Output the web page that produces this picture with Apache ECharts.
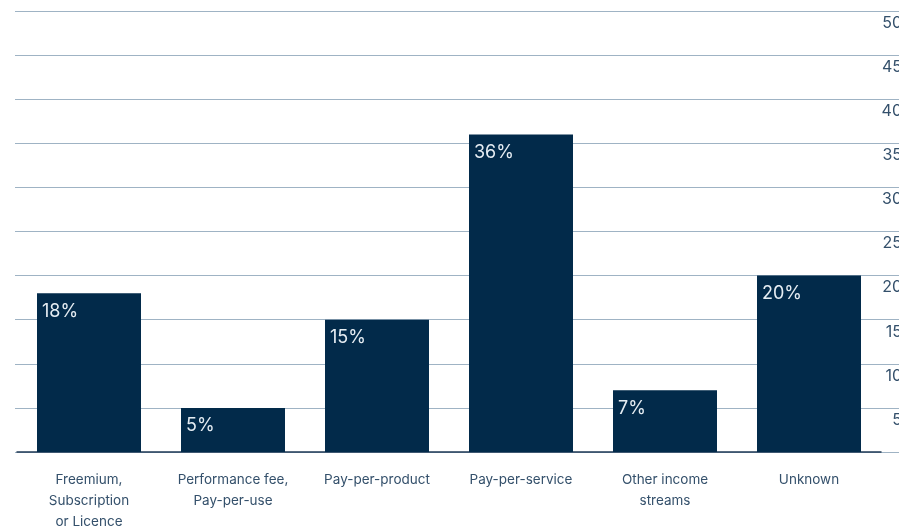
<!DOCTYPE html>
<html><head><meta charset="utf-8">
<script src="https://cdn.jsdelivr.net/npm/echarts@6/dist/echarts.min.js"></script>
<style>html,body{margin:0;padding:0;background:#fff}#c{width:899px;height:526px}</style>
</head><body><div id="c"></div>
<script>
const categories = ['Freemium,\nSubscription\nor Licence', 'Performance fee,\nPay-per-use', 'Pay-per-product', 'Pay-per-service', 'Other income\nstreams', 'Unknown'];
const values = [18, 5, 15, 36, 7, 20];
const yTicks = [0, 5, 10, 15, 20, 25, 30, 35, 40, 45, 50];

const font = 'Inter, "Noto Sans", sans-serif';
const chart = echarts.init(document.getElementById('c'));
chart.setOption({
  animation: false,
  grid: [
    {left: 17, right: 18, top: 11, bottom: 74, outerBoundsMode: 'none', containLabel: false},
    {left: 15, right: 0, top: 11, bottom: 74, outerBoundsMode: 'none', containLabel: false}
  ],
  xAxis: [
    {type: 'category', gridIndex: 0, data: categories,
     axisLine: {lineStyle: {color: '#1f3a56', width: 1.5}},
     axisTick: {show: false},
     axisLabel: {color: '#34506b', fontSize: 13.5, fontFamily: font, lineHeight: 21, margin: 17, interval: 0}},
    {type: 'value', gridIndex: 1, show: false}
  ],
  yAxis: [
    {type: 'value', gridIndex: 0, min: 0, max: 50, interval: 5, show: false, splitLine: {show: false}},
    {type: 'value', gridIndex: 1, min: yTicks[0], max: yTicks[yTicks.length - 1], interval: 5, position: 'right',
     axisLine: {show: false}, axisTick: {show: false},
     splitLine: {lineStyle: {color: '#9fb3c4', width: 1}},
     axisLabel: {inside: true, margin: -3, color: '#34506b', fontSize: 16, fontFamily: font,
       verticalAlign: 'top', padding: [4, 0, 0, 0],
       formatter: v => v === 0 ? '' : String(v)}}
  ],
  series: [{
    type: 'bar', xAxisIndex: 0, yAxisIndex: 0, data: values, barWidth: 104,
    itemStyle: {color: '#022a4a'},
    label: {show: true, position: 'insideTopLeft', offset: [0, 4], color: '#e6edf3', fontSize: 18, fontFamily: font,
      formatter: p => p.value + '%'},
    z: 3
  }]
});
</script></body></html>
